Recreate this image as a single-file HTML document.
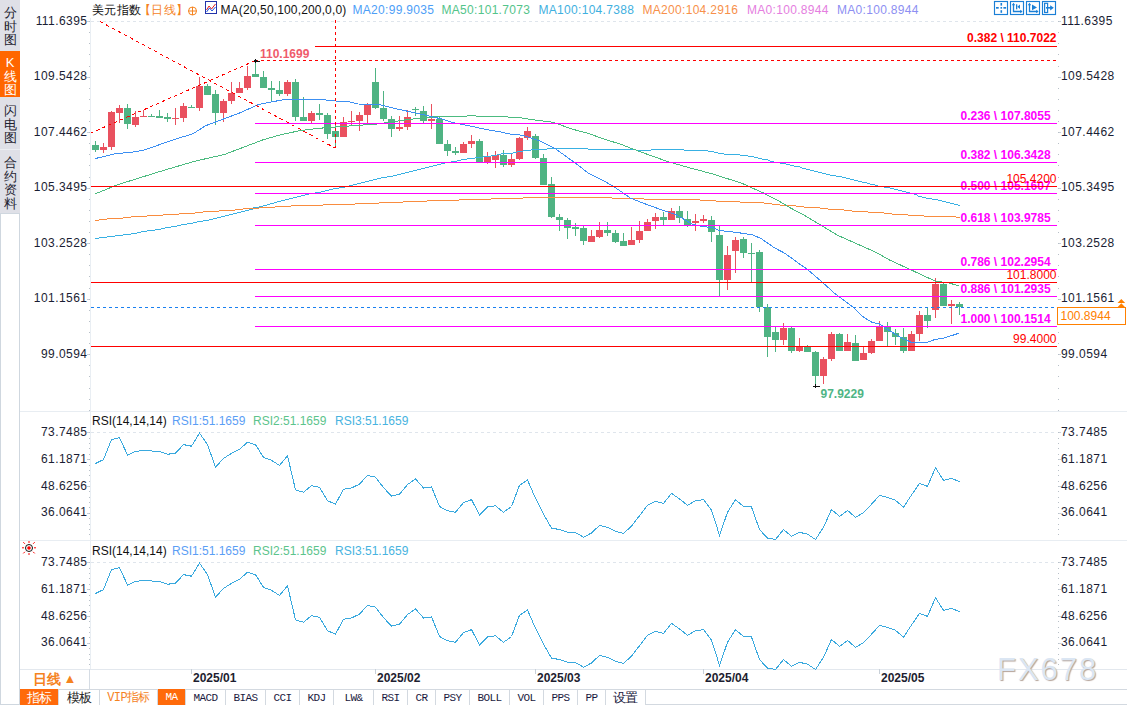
<!DOCTYPE html>
<html><head><meta charset="utf-8"><style>
html,body{margin:0;padding:0;width:1127px;height:705px;overflow:hidden;background:#fff;font-family:"Liberation Sans",sans-serif}
.side{position:absolute;left:0;top:0;width:20px;height:213px;background:#dfe0e7}
.side div{position:absolute;left:0;width:20px;text-align:center;font-size:13px;line-height:13.6px;color:#1e2330}
.wm{position:absolute;left:997px;top:652px;font:31px "Liberation Sans",sans-serif;letter-spacing:2px;color:#dbe6f3;text-shadow:1px 1px 1px #b5a49a}
.tabs{position:absolute;left:20px;top:689px;height:16px;right:0;border-top:1px solid #d3d9e0}
.tab{position:absolute;top:0;height:16px;font:11px "Liberation Mono",monospace;letter-spacing:-0.6px;line-height:16px;text-align:center;color:#1a1a40;border-right:1px solid #d3d9e0;box-sizing:border-box}
</style></head><body>
<div class="side">
<div style="top:6px">分<br>时<br>图</div>
<div style="top:51px;height:46px;background:#ff6600;color:#fff;padding-top:5px;box-sizing:border-box">K<br>线<br>图</div>
<div style="top:104px">闪<br>电<br>图</div>
<div style="top:149px;height:1px;background:#eceef2"></div>
<div style="top:156px">合<br>约<br>资<br>料</div>
</div>
<div style="position:absolute;left:0;top:213px;width:20px;height:492px;border:1px solid #cfd7df;border-right-width:1px;box-sizing:border-box;background:#fff"></div>
<svg width="1127" height="705" viewBox="0 0 1127 705" style="position:absolute;left:0;top:0">
<style>
.ax{font:12px "Liberation Sans",sans-serif;fill:#1a1d33;letter-spacing:0.45px}
.t12{font:12px "Liberation Sans",sans-serif}
.tt{font:12px "Liberation Sans",sans-serif;letter-spacing:0.3px}
.b12{font:bold 12px "Liberation Sans",sans-serif}
</style>
<g shape-rendering="crispEdges">
<rect x="20" y="411" width="1107" height="1" fill="#e8edf2"/>
<rect x="20" y="540" width="1107" height="1" fill="#e8edf2"/>
<rect x="20" y="669" width="1107" height="1" fill="#e3e8ee"/>
<rect x="90" y="18" width="1" height="651" fill="#e9eef3"/>
<text x="87.5" y="24.7" text-anchor="end" class="ax">111.6395</text>
<text x="1061" y="24.7" class="ax">111.6395</text>
<rect x="87" y="21" width="3" height="1" fill="#c9d0d8"/>
<rect x="1058" y="21" width="3" height="1" fill="#c9d0d8"/>
<text x="87.5" y="80.2" text-anchor="end" class="ax">109.5428</text>
<text x="1061" y="80.2" class="ax">109.5428</text>
<rect x="87" y="77" width="3" height="1" fill="#c9d0d8"/>
<rect x="1058" y="77" width="3" height="1" fill="#c9d0d8"/>
<text x="87.5" y="135.7" text-anchor="end" class="ax">107.4462</text>
<text x="1061" y="135.7" class="ax">107.4462</text>
<rect x="87" y="132" width="3" height="1" fill="#c9d0d8"/>
<rect x="1058" y="132" width="3" height="1" fill="#c9d0d8"/>
<text x="87.5" y="191.2" text-anchor="end" class="ax">105.3495</text>
<text x="1061" y="191.2" class="ax">105.3495</text>
<rect x="87" y="188" width="3" height="1" fill="#c9d0d8"/>
<rect x="1058" y="188" width="3" height="1" fill="#c9d0d8"/>
<text x="87.5" y="246.7" text-anchor="end" class="ax">103.2528</text>
<text x="1061" y="246.7" class="ax">103.2528</text>
<rect x="87" y="243" width="3" height="1" fill="#c9d0d8"/>
<rect x="1058" y="243" width="3" height="1" fill="#c9d0d8"/>
<text x="87.5" y="302.2" text-anchor="end" class="ax">101.1561</text>
<text x="1061" y="302.2" class="ax">101.1561</text>
<rect x="87" y="299" width="3" height="1" fill="#c9d0d8"/>
<rect x="1058" y="299" width="3" height="1" fill="#c9d0d8"/>
<text x="87.5" y="357.7" text-anchor="end" class="ax">99.0594</text>
<text x="1061" y="357.7" class="ax">99.0594</text>
<rect x="87" y="354" width="3" height="1" fill="#c9d0d8"/>
<rect x="1058" y="354" width="3" height="1" fill="#c9d0d8"/>
<rect x="89" y="21" width="1" height="1" fill="#b8c0c8"/>
<rect x="1058" y="21" width="1" height="1" fill="#b8c0c8"/>
<rect x="89" y="32" width="1" height="1" fill="#b8c0c8"/>
<rect x="1058" y="32" width="1" height="1" fill="#b8c0c8"/>
<rect x="89" y="43" width="1" height="1" fill="#b8c0c8"/>
<rect x="1058" y="43" width="1" height="1" fill="#b8c0c8"/>
<rect x="89" y="54" width="1" height="1" fill="#b8c0c8"/>
<rect x="1058" y="54" width="1" height="1" fill="#b8c0c8"/>
<rect x="89" y="66" width="1" height="1" fill="#b8c0c8"/>
<rect x="1058" y="66" width="1" height="1" fill="#b8c0c8"/>
<rect x="89" y="77" width="1" height="1" fill="#b8c0c8"/>
<rect x="1058" y="77" width="1" height="1" fill="#b8c0c8"/>
<rect x="89" y="88" width="1" height="1" fill="#b8c0c8"/>
<rect x="1058" y="88" width="1" height="1" fill="#b8c0c8"/>
<rect x="89" y="99" width="1" height="1" fill="#b8c0c8"/>
<rect x="1058" y="99" width="1" height="1" fill="#b8c0c8"/>
<rect x="89" y="110" width="1" height="1" fill="#b8c0c8"/>
<rect x="1058" y="110" width="1" height="1" fill="#b8c0c8"/>
<rect x="89" y="121" width="1" height="1" fill="#b8c0c8"/>
<rect x="1058" y="121" width="1" height="1" fill="#b8c0c8"/>
<rect x="89" y="132" width="1" height="1" fill="#b8c0c8"/>
<rect x="1058" y="132" width="1" height="1" fill="#b8c0c8"/>
<rect x="89" y="143" width="1" height="1" fill="#b8c0c8"/>
<rect x="1058" y="143" width="1" height="1" fill="#b8c0c8"/>
<rect x="89" y="154" width="1" height="1" fill="#b8c0c8"/>
<rect x="1058" y="154" width="1" height="1" fill="#b8c0c8"/>
<rect x="89" y="165" width="1" height="1" fill="#b8c0c8"/>
<rect x="1058" y="165" width="1" height="1" fill="#b8c0c8"/>
<rect x="89" y="177" width="1" height="1" fill="#b8c0c8"/>
<rect x="1058" y="177" width="1" height="1" fill="#b8c0c8"/>
<rect x="89" y="188" width="1" height="1" fill="#b8c0c8"/>
<rect x="1058" y="188" width="1" height="1" fill="#b8c0c8"/>
<rect x="89" y="199" width="1" height="1" fill="#b8c0c8"/>
<rect x="1058" y="199" width="1" height="1" fill="#b8c0c8"/>
<rect x="89" y="210" width="1" height="1" fill="#b8c0c8"/>
<rect x="1058" y="210" width="1" height="1" fill="#b8c0c8"/>
<rect x="89" y="221" width="1" height="1" fill="#b8c0c8"/>
<rect x="1058" y="221" width="1" height="1" fill="#b8c0c8"/>
<rect x="89" y="232" width="1" height="1" fill="#b8c0c8"/>
<rect x="1058" y="232" width="1" height="1" fill="#b8c0c8"/>
<rect x="89" y="243" width="1" height="1" fill="#b8c0c8"/>
<rect x="1058" y="243" width="1" height="1" fill="#b8c0c8"/>
<rect x="89" y="254" width="1" height="1" fill="#b8c0c8"/>
<rect x="1058" y="254" width="1" height="1" fill="#b8c0c8"/>
<rect x="89" y="265" width="1" height="1" fill="#b8c0c8"/>
<rect x="1058" y="265" width="1" height="1" fill="#b8c0c8"/>
<rect x="89" y="276" width="1" height="1" fill="#b8c0c8"/>
<rect x="1058" y="276" width="1" height="1" fill="#b8c0c8"/>
<rect x="89" y="288" width="1" height="1" fill="#b8c0c8"/>
<rect x="1058" y="288" width="1" height="1" fill="#b8c0c8"/>
<rect x="89" y="299" width="1" height="1" fill="#b8c0c8"/>
<rect x="1058" y="299" width="1" height="1" fill="#b8c0c8"/>
<rect x="89" y="310" width="1" height="1" fill="#b8c0c8"/>
<rect x="1058" y="310" width="1" height="1" fill="#b8c0c8"/>
<rect x="89" y="321" width="1" height="1" fill="#b8c0c8"/>
<rect x="1058" y="321" width="1" height="1" fill="#b8c0c8"/>
<rect x="89" y="332" width="1" height="1" fill="#b8c0c8"/>
<rect x="1058" y="332" width="1" height="1" fill="#b8c0c8"/>
<rect x="89" y="343" width="1" height="1" fill="#b8c0c8"/>
<rect x="1058" y="343" width="1" height="1" fill="#b8c0c8"/>
<rect x="89" y="354" width="1" height="1" fill="#b8c0c8"/>
<rect x="1058" y="354" width="1" height="1" fill="#b8c0c8"/>
<rect x="89" y="365" width="1" height="1" fill="#b8c0c8"/>
<rect x="1058" y="365" width="1" height="1" fill="#b8c0c8"/>
<rect x="89" y="376" width="1" height="1" fill="#b8c0c8"/>
<rect x="1058" y="376" width="1" height="1" fill="#b8c0c8"/>
<rect x="89" y="388" width="1" height="1" fill="#b8c0c8"/>
<rect x="1058" y="388" width="1" height="1" fill="#b8c0c8"/>
<rect x="89" y="399" width="1" height="1" fill="#b8c0c8"/>
<rect x="1058" y="399" width="1" height="1" fill="#b8c0c8"/>
<rect x="89" y="410" width="1" height="1" fill="#b8c0c8"/>
<rect x="1058" y="410" width="1" height="1" fill="#b8c0c8"/>
<line x1="91" y1="21.5" x2="1057" y2="21.5" stroke="#dfe5ec" stroke-width="1" stroke-dasharray="3,3"/>
<text x="87.5" y="435.8" text-anchor="end" class="ax">73.7485</text>
<text x="1061" y="435.8" class="ax">73.7485</text>
<rect x="87" y="432" width="3" height="1" fill="#c9d0d8"/>
<rect x="1058" y="432" width="3" height="1" fill="#c9d0d8"/>
<text x="87.5" y="462.7" text-anchor="end" class="ax">61.1871</text>
<text x="1061" y="462.7" class="ax">61.1871</text>
<rect x="87" y="459" width="3" height="1" fill="#c9d0d8"/>
<rect x="1058" y="459" width="3" height="1" fill="#c9d0d8"/>
<text x="87.5" y="489.5" text-anchor="end" class="ax">48.6256</text>
<text x="1061" y="489.5" class="ax">48.6256</text>
<rect x="87" y="486" width="3" height="1" fill="#c9d0d8"/>
<rect x="1058" y="486" width="3" height="1" fill="#c9d0d8"/>
<text x="87.5" y="516.4" text-anchor="end" class="ax">36.0641</text>
<text x="1061" y="516.4" class="ax">36.0641</text>
<rect x="87" y="513" width="3" height="1" fill="#c9d0d8"/>
<rect x="1058" y="513" width="3" height="1" fill="#c9d0d8"/>
<rect x="89" y="432" width="1" height="1" fill="#b8c0c8"/>
<rect x="1058" y="432" width="1" height="1" fill="#b8c0c8"/>
<rect x="89" y="438" width="1" height="1" fill="#b8c0c8"/>
<rect x="1058" y="438" width="1" height="1" fill="#b8c0c8"/>
<rect x="89" y="443" width="1" height="1" fill="#b8c0c8"/>
<rect x="1058" y="443" width="1" height="1" fill="#b8c0c8"/>
<rect x="89" y="448" width="1" height="1" fill="#b8c0c8"/>
<rect x="1058" y="448" width="1" height="1" fill="#b8c0c8"/>
<rect x="89" y="454" width="1" height="1" fill="#b8c0c8"/>
<rect x="1058" y="454" width="1" height="1" fill="#b8c0c8"/>
<rect x="89" y="459" width="1" height="1" fill="#b8c0c8"/>
<rect x="1058" y="459" width="1" height="1" fill="#b8c0c8"/>
<rect x="89" y="465" width="1" height="1" fill="#b8c0c8"/>
<rect x="1058" y="465" width="1" height="1" fill="#b8c0c8"/>
<rect x="89" y="470" width="1" height="1" fill="#b8c0c8"/>
<rect x="1058" y="470" width="1" height="1" fill="#b8c0c8"/>
<rect x="89" y="475" width="1" height="1" fill="#b8c0c8"/>
<rect x="1058" y="475" width="1" height="1" fill="#b8c0c8"/>
<rect x="89" y="481" width="1" height="1" fill="#b8c0c8"/>
<rect x="1058" y="481" width="1" height="1" fill="#b8c0c8"/>
<rect x="89" y="486" width="1" height="1" fill="#b8c0c8"/>
<rect x="1058" y="486" width="1" height="1" fill="#b8c0c8"/>
<rect x="89" y="491" width="1" height="1" fill="#b8c0c8"/>
<rect x="1058" y="491" width="1" height="1" fill="#b8c0c8"/>
<rect x="89" y="497" width="1" height="1" fill="#b8c0c8"/>
<rect x="1058" y="497" width="1" height="1" fill="#b8c0c8"/>
<rect x="89" y="502" width="1" height="1" fill="#b8c0c8"/>
<rect x="1058" y="502" width="1" height="1" fill="#b8c0c8"/>
<rect x="89" y="507" width="1" height="1" fill="#b8c0c8"/>
<rect x="1058" y="507" width="1" height="1" fill="#b8c0c8"/>
<rect x="89" y="513" width="1" height="1" fill="#b8c0c8"/>
<rect x="1058" y="513" width="1" height="1" fill="#b8c0c8"/>
<rect x="89" y="518" width="1" height="1" fill="#b8c0c8"/>
<rect x="1058" y="518" width="1" height="1" fill="#b8c0c8"/>
<rect x="89" y="524" width="1" height="1" fill="#b8c0c8"/>
<rect x="1058" y="524" width="1" height="1" fill="#b8c0c8"/>
<rect x="89" y="529" width="1" height="1" fill="#b8c0c8"/>
<rect x="1058" y="529" width="1" height="1" fill="#b8c0c8"/>
<rect x="89" y="534" width="1" height="1" fill="#b8c0c8"/>
<rect x="1058" y="534" width="1" height="1" fill="#b8c0c8"/>
<line x1="91" y1="432.5" x2="1057" y2="432.5" stroke="#dfe5ec" stroke-width="1" stroke-dasharray="3,3"/>
<text x="92" y="424.5" class="t12" fill="#111">RSI(14,14,14)</text>
<text x="172" y="424.5" class="t12" fill="#5b9ef5">RSI1:51.1659</text>
<text x="253" y="424.5" class="t12" fill="#5cc48c">RSI2:51.1659</text>
<text x="335" y="424.5" class="t12" fill="#47b3e0">RSI3:51.1659</text>
<text x="87.5" y="565.8" text-anchor="end" class="ax">73.7485</text>
<text x="1061" y="565.8" class="ax">73.7485</text>
<rect x="87" y="562" width="3" height="1" fill="#c9d0d8"/>
<rect x="1058" y="562" width="3" height="1" fill="#c9d0d8"/>
<text x="87.5" y="592.7" text-anchor="end" class="ax">61.1871</text>
<text x="1061" y="592.7" class="ax">61.1871</text>
<rect x="87" y="589" width="3" height="1" fill="#c9d0d8"/>
<rect x="1058" y="589" width="3" height="1" fill="#c9d0d8"/>
<text x="87.5" y="619.5" text-anchor="end" class="ax">48.6256</text>
<text x="1061" y="619.5" class="ax">48.6256</text>
<rect x="87" y="616" width="3" height="1" fill="#c9d0d8"/>
<rect x="1058" y="616" width="3" height="1" fill="#c9d0d8"/>
<text x="87.5" y="646.4" text-anchor="end" class="ax">36.0641</text>
<text x="1061" y="646.4" class="ax">36.0641</text>
<rect x="87" y="643" width="3" height="1" fill="#c9d0d8"/>
<rect x="1058" y="643" width="3" height="1" fill="#c9d0d8"/>
<rect x="89" y="562" width="1" height="1" fill="#b8c0c8"/>
<rect x="1058" y="562" width="1" height="1" fill="#b8c0c8"/>
<rect x="89" y="568" width="1" height="1" fill="#b8c0c8"/>
<rect x="1058" y="568" width="1" height="1" fill="#b8c0c8"/>
<rect x="89" y="573" width="1" height="1" fill="#b8c0c8"/>
<rect x="1058" y="573" width="1" height="1" fill="#b8c0c8"/>
<rect x="89" y="578" width="1" height="1" fill="#b8c0c8"/>
<rect x="1058" y="578" width="1" height="1" fill="#b8c0c8"/>
<rect x="89" y="584" width="1" height="1" fill="#b8c0c8"/>
<rect x="1058" y="584" width="1" height="1" fill="#b8c0c8"/>
<rect x="89" y="589" width="1" height="1" fill="#b8c0c8"/>
<rect x="1058" y="589" width="1" height="1" fill="#b8c0c8"/>
<rect x="89" y="595" width="1" height="1" fill="#b8c0c8"/>
<rect x="1058" y="595" width="1" height="1" fill="#b8c0c8"/>
<rect x="89" y="600" width="1" height="1" fill="#b8c0c8"/>
<rect x="1058" y="600" width="1" height="1" fill="#b8c0c8"/>
<rect x="89" y="605" width="1" height="1" fill="#b8c0c8"/>
<rect x="1058" y="605" width="1" height="1" fill="#b8c0c8"/>
<rect x="89" y="611" width="1" height="1" fill="#b8c0c8"/>
<rect x="1058" y="611" width="1" height="1" fill="#b8c0c8"/>
<rect x="89" y="616" width="1" height="1" fill="#b8c0c8"/>
<rect x="1058" y="616" width="1" height="1" fill="#b8c0c8"/>
<rect x="89" y="621" width="1" height="1" fill="#b8c0c8"/>
<rect x="1058" y="621" width="1" height="1" fill="#b8c0c8"/>
<rect x="89" y="627" width="1" height="1" fill="#b8c0c8"/>
<rect x="1058" y="627" width="1" height="1" fill="#b8c0c8"/>
<rect x="89" y="632" width="1" height="1" fill="#b8c0c8"/>
<rect x="1058" y="632" width="1" height="1" fill="#b8c0c8"/>
<rect x="89" y="637" width="1" height="1" fill="#b8c0c8"/>
<rect x="1058" y="637" width="1" height="1" fill="#b8c0c8"/>
<rect x="89" y="643" width="1" height="1" fill="#b8c0c8"/>
<rect x="1058" y="643" width="1" height="1" fill="#b8c0c8"/>
<rect x="89" y="648" width="1" height="1" fill="#b8c0c8"/>
<rect x="1058" y="648" width="1" height="1" fill="#b8c0c8"/>
<rect x="89" y="654" width="1" height="1" fill="#b8c0c8"/>
<rect x="1058" y="654" width="1" height="1" fill="#b8c0c8"/>
<rect x="89" y="659" width="1" height="1" fill="#b8c0c8"/>
<rect x="1058" y="659" width="1" height="1" fill="#b8c0c8"/>
<rect x="89" y="664" width="1" height="1" fill="#b8c0c8"/>
<rect x="1058" y="664" width="1" height="1" fill="#b8c0c8"/>
<line x1="91" y1="562.5" x2="1057" y2="562.5" stroke="#dfe5ec" stroke-width="1" stroke-dasharray="3,3"/>
<text x="92" y="554.5" class="t12" fill="#111">RSI(14,14,14)</text>
<text x="172" y="554.5" class="t12" fill="#5b9ef5">RSI1:51.1659</text>
<text x="253" y="554.5" class="t12" fill="#5cc48c">RSI2:51.1659</text>
<text x="335" y="554.5" class="t12" fill="#47b3e0">RSI3:51.1659</text>
</g>
<g shape-rendering="crispEdges">
<rect x="95" y="141" width="1" height="11" fill="#4fb383"/>
<rect x="92" y="145" width="7" height="5" fill="#4fb383"/>
<rect x="103" y="143" width="1" height="10" fill="#e9515f"/>
<rect x="100" y="147" width="7" height="3" fill="#e9515f"/>
<rect x="111" y="111" width="1" height="39" fill="#e9515f"/>
<rect x="108" y="112" width="7" height="35" fill="#e9515f"/>
<rect x="119" y="105" width="1" height="18" fill="#e9515f"/>
<rect x="116" y="108" width="7" height="5" fill="#e9515f"/>
<rect x="127" y="104" width="1" height="25" fill="#4fb383"/>
<rect x="124" y="108" width="7" height="16" fill="#4fb383"/>
<rect x="135" y="111" width="1" height="16" fill="#e9515f"/>
<rect x="132" y="117" width="7" height="8" fill="#e9515f"/>
<rect x="143" y="110" width="1" height="7" fill="#e9515f"/>
<rect x="140" y="116" width="7" height="1" fill="#e9515f"/>
<rect x="151" y="114" width="1" height="3" fill="#4fb383"/>
<rect x="148" y="116" width="7" height="1" fill="#4fb383"/>
<rect x="159" y="110" width="1" height="8" fill="#4fb383"/>
<rect x="156" y="116" width="7" height="2" fill="#4fb383"/>
<rect x="167" y="113" width="1" height="9" fill="#4fb383"/>
<rect x="164" y="117" width="7" height="2" fill="#4fb383"/>
<rect x="175" y="108" width="1" height="17" fill="#e9515f"/>
<rect x="172" y="118" width="7" height="1" fill="#e9515f"/>
<rect x="183" y="103" width="1" height="19" fill="#e9515f"/>
<rect x="180" y="106" width="7" height="12" fill="#e9515f"/>
<rect x="191" y="105" width="1" height="3" fill="#4fb383"/>
<rect x="188" y="107" width="7" height="1" fill="#4fb383"/>
<rect x="199" y="77" width="1" height="34" fill="#e9515f"/>
<rect x="196" y="86" width="7" height="22" fill="#e9515f"/>
<rect x="207" y="84" width="1" height="11" fill="#4fb383"/>
<rect x="204" y="86" width="7" height="9" fill="#4fb383"/>
<rect x="215" y="90" width="1" height="35" fill="#4fb383"/>
<rect x="212" y="94" width="7" height="19" fill="#4fb383"/>
<rect x="223" y="99" width="1" height="23" fill="#e9515f"/>
<rect x="220" y="101" width="7" height="12" fill="#e9515f"/>
<rect x="231" y="82" width="1" height="22" fill="#e9515f"/>
<rect x="228" y="93" width="7" height="8" fill="#e9515f"/>
<rect x="239" y="82" width="1" height="11" fill="#e9515f"/>
<rect x="236" y="88" width="7" height="5" fill="#e9515f"/>
<rect x="247" y="66" width="1" height="24" fill="#e9515f"/>
<rect x="244" y="76" width="7" height="12" fill="#e9515f"/>
<rect x="255" y="60" width="1" height="17" fill="#4fb383"/>
<rect x="252" y="74" width="7" height="3" fill="#4fb383"/>
<rect x="263" y="71" width="1" height="17" fill="#4fb383"/>
<rect x="260" y="77" width="7" height="11" fill="#4fb383"/>
<rect x="271" y="81" width="1" height="21" fill="#4fb383"/>
<rect x="268" y="88" width="7" height="2" fill="#4fb383"/>
<rect x="279" y="81" width="1" height="15" fill="#4fb383"/>
<rect x="276" y="90" width="7" height="4" fill="#4fb383"/>
<rect x="287" y="80" width="1" height="16" fill="#e9515f"/>
<rect x="284" y="82" width="7" height="12" fill="#e9515f"/>
<rect x="295" y="79" width="1" height="42" fill="#4fb383"/>
<rect x="292" y="82" width="7" height="35" fill="#4fb383"/>
<rect x="303" y="97" width="1" height="24" fill="#4fb383"/>
<rect x="300" y="117" width="7" height="4" fill="#4fb383"/>
<rect x="311" y="111" width="1" height="13" fill="#e9515f"/>
<rect x="308" y="113" width="7" height="8" fill="#e9515f"/>
<rect x="319" y="104" width="1" height="16" fill="#4fb383"/>
<rect x="316" y="113" width="7" height="2" fill="#4fb383"/>
<rect x="327" y="113" width="1" height="26" fill="#4fb383"/>
<rect x="324" y="115" width="7" height="19" fill="#4fb383"/>
<rect x="335" y="125" width="1" height="23" fill="#4fb383"/>
<rect x="332" y="131" width="7" height="6" fill="#4fb383"/>
<rect x="343" y="117" width="1" height="20" fill="#e9515f"/>
<rect x="340" y="122" width="7" height="15" fill="#e9515f"/>
<rect x="351" y="111" width="1" height="14" fill="#e9515f"/>
<rect x="348" y="121" width="7" height="1" fill="#e9515f"/>
<rect x="359" y="112" width="1" height="19" fill="#e9515f"/>
<rect x="356" y="115" width="7" height="6" fill="#e9515f"/>
<rect x="367" y="103" width="1" height="20" fill="#e9515f"/>
<rect x="364" y="105" width="7" height="10" fill="#e9515f"/>
<rect x="375" y="68" width="1" height="41" fill="#4fb383"/>
<rect x="372" y="82" width="7" height="26" fill="#4fb383"/>
<rect x="383" y="91" width="1" height="30" fill="#4fb383"/>
<rect x="380" y="108" width="7" height="11" fill="#4fb383"/>
<rect x="391" y="116" width="1" height="21" fill="#4fb383"/>
<rect x="388" y="119" width="7" height="10" fill="#4fb383"/>
<rect x="399" y="116" width="1" height="15" fill="#e9515f"/>
<rect x="396" y="127" width="7" height="2" fill="#e9515f"/>
<rect x="407" y="110" width="1" height="20" fill="#e9515f"/>
<rect x="404" y="117" width="7" height="10" fill="#e9515f"/>
<rect x="415" y="107" width="1" height="9" fill="#4fb383"/>
<rect x="412" y="109" width="7" height="1" fill="#4fb383"/>
<rect x="423" y="106" width="1" height="17" fill="#4fb383"/>
<rect x="420" y="111" width="7" height="10" fill="#4fb383"/>
<rect x="431" y="104" width="1" height="25" fill="#e9515f"/>
<rect x="428" y="119" width="7" height="2" fill="#e9515f"/>
<rect x="439" y="117" width="1" height="27" fill="#4fb383"/>
<rect x="436" y="119" width="7" height="25" fill="#4fb383"/>
<rect x="447" y="140" width="1" height="16" fill="#4fb383"/>
<rect x="444" y="144" width="7" height="7" fill="#4fb383"/>
<rect x="455" y="147" width="1" height="8" fill="#4fb383"/>
<rect x="452" y="151" width="7" height="2" fill="#4fb383"/>
<rect x="463" y="142" width="1" height="11" fill="#e9515f"/>
<rect x="460" y="144" width="7" height="9" fill="#e9515f"/>
<rect x="471" y="135" width="1" height="13" fill="#e9515f"/>
<rect x="468" y="141" width="7" height="3" fill="#e9515f"/>
<rect x="479" y="139" width="1" height="23" fill="#4fb383"/>
<rect x="476" y="141" width="7" height="21" fill="#4fb383"/>
<rect x="487" y="152" width="1" height="12" fill="#e9515f"/>
<rect x="484" y="157" width="7" height="5" fill="#e9515f"/>
<rect x="495" y="151" width="1" height="17" fill="#e9515f"/>
<rect x="492" y="155" width="7" height="5" fill="#e9515f"/>
<rect x="503" y="150" width="1" height="17" fill="#4fb383"/>
<rect x="500" y="155" width="7" height="10" fill="#4fb383"/>
<rect x="511" y="154" width="1" height="13" fill="#e9515f"/>
<rect x="508" y="159" width="7" height="6" fill="#e9515f"/>
<rect x="519" y="137" width="1" height="23" fill="#e9515f"/>
<rect x="516" y="138" width="7" height="21" fill="#e9515f"/>
<rect x="527" y="127" width="1" height="13" fill="#e9515f"/>
<rect x="524" y="131" width="7" height="7" fill="#e9515f"/>
<rect x="535" y="134" width="1" height="25" fill="#4fb383"/>
<rect x="532" y="136" width="7" height="22" fill="#4fb383"/>
<rect x="543" y="154" width="1" height="31" fill="#4fb383"/>
<rect x="540" y="158" width="7" height="27" fill="#4fb383"/>
<rect x="551" y="177" width="1" height="41" fill="#4fb383"/>
<rect x="548" y="184" width="7" height="33" fill="#4fb383"/>
<rect x="559" y="214" width="1" height="17" fill="#4fb383"/>
<rect x="556" y="217" width="7" height="3" fill="#4fb383"/>
<rect x="567" y="218" width="1" height="21" fill="#4fb383"/>
<rect x="564" y="220" width="7" height="8" fill="#4fb383"/>
<rect x="575" y="223" width="1" height="13" fill="#4fb383"/>
<rect x="572" y="227" width="7" height="2" fill="#4fb383"/>
<rect x="583" y="226" width="1" height="19" fill="#4fb383"/>
<rect x="580" y="228" width="7" height="13" fill="#4fb383"/>
<rect x="591" y="230" width="1" height="12" fill="#e9515f"/>
<rect x="588" y="236" width="7" height="6" fill="#e9515f"/>
<rect x="599" y="222" width="1" height="16" fill="#e9515f"/>
<rect x="596" y="230" width="7" height="7" fill="#e9515f"/>
<rect x="607" y="222" width="1" height="14" fill="#4fb383"/>
<rect x="604" y="230" width="7" height="3" fill="#4fb383"/>
<rect x="615" y="230" width="1" height="13" fill="#4fb383"/>
<rect x="612" y="233" width="7" height="9" fill="#4fb383"/>
<rect x="623" y="233" width="1" height="13" fill="#4fb383"/>
<rect x="620" y="241" width="7" height="5" fill="#4fb383"/>
<rect x="631" y="227" width="1" height="18" fill="#e9515f"/>
<rect x="628" y="240" width="7" height="5" fill="#e9515f"/>
<rect x="639" y="221" width="1" height="22" fill="#e9515f"/>
<rect x="636" y="231" width="7" height="9" fill="#e9515f"/>
<rect x="647" y="219" width="1" height="12" fill="#e9515f"/>
<rect x="644" y="222" width="7" height="9" fill="#e9515f"/>
<rect x="655" y="213" width="1" height="16" fill="#e9515f"/>
<rect x="652" y="217" width="7" height="4" fill="#e9515f"/>
<rect x="663" y="212" width="1" height="13" fill="#4fb383"/>
<rect x="660" y="217" width="7" height="3" fill="#4fb383"/>
<rect x="671" y="208" width="1" height="12" fill="#e9515f"/>
<rect x="668" y="211" width="7" height="9" fill="#e9515f"/>
<rect x="679" y="206" width="1" height="17" fill="#4fb383"/>
<rect x="676" y="211" width="7" height="7" fill="#4fb383"/>
<rect x="687" y="211" width="1" height="16" fill="#4fb383"/>
<rect x="684" y="219" width="7" height="6" fill="#4fb383"/>
<rect x="695" y="214" width="1" height="17" fill="#e9515f"/>
<rect x="692" y="221" width="7" height="2" fill="#e9515f"/>
<rect x="703" y="215" width="1" height="8" fill="#e9515f"/>
<rect x="700" y="219" width="7" height="2" fill="#e9515f"/>
<rect x="711" y="216" width="1" height="26" fill="#4fb383"/>
<rect x="708" y="220" width="7" height="12" fill="#4fb383"/>
<rect x="719" y="226" width="1" height="70" fill="#4fb383"/>
<rect x="716" y="235" width="7" height="45" fill="#4fb383"/>
<rect x="727" y="246" width="1" height="44" fill="#e9515f"/>
<rect x="724" y="255" width="7" height="25" fill="#e9515f"/>
<rect x="735" y="237" width="1" height="36" fill="#e9515f"/>
<rect x="732" y="240" width="7" height="11" fill="#e9515f"/>
<rect x="743" y="237" width="1" height="21" fill="#4fb383"/>
<rect x="740" y="239" width="7" height="14" fill="#4fb383"/>
<rect x="751" y="243" width="1" height="39" fill="#4fb383"/>
<rect x="748" y="253" width="7" height="1" fill="#4fb383"/>
<rect x="759" y="250" width="1" height="62" fill="#4fb383"/>
<rect x="756" y="252" width="7" height="55" fill="#4fb383"/>
<rect x="767" y="304" width="1" height="53" fill="#4fb383"/>
<rect x="764" y="307" width="7" height="30" fill="#4fb383"/>
<rect x="775" y="327" width="1" height="25" fill="#4fb383"/>
<rect x="772" y="332" width="7" height="8" fill="#4fb383"/>
<rect x="783" y="323" width="1" height="22" fill="#e9515f"/>
<rect x="780" y="328" width="7" height="12" fill="#e9515f"/>
<rect x="791" y="327" width="1" height="26" fill="#4fb383"/>
<rect x="788" y="328" width="7" height="23" fill="#4fb383"/>
<rect x="799" y="338" width="1" height="14" fill="#e9515f"/>
<rect x="796" y="347" width="7" height="4" fill="#e9515f"/>
<rect x="807" y="345" width="1" height="7" fill="#4fb383"/>
<rect x="804" y="347" width="7" height="5" fill="#4fb383"/>
<rect x="815" y="351" width="1" height="35" fill="#4fb383"/>
<rect x="812" y="352" width="7" height="24" fill="#4fb383"/>
<rect x="823" y="357" width="1" height="27" fill="#e9515f"/>
<rect x="820" y="359" width="7" height="17" fill="#e9515f"/>
<rect x="831" y="332" width="1" height="29" fill="#e9515f"/>
<rect x="828" y="334" width="7" height="25" fill="#e9515f"/>
<rect x="839" y="333" width="1" height="18" fill="#4fb383"/>
<rect x="836" y="334" width="7" height="17" fill="#4fb383"/>
<rect x="847" y="334" width="1" height="17" fill="#e9515f"/>
<rect x="844" y="342" width="7" height="9" fill="#e9515f"/>
<rect x="855" y="335" width="1" height="26" fill="#4fb383"/>
<rect x="852" y="343" width="7" height="18" fill="#4fb383"/>
<rect x="863" y="347" width="1" height="13" fill="#e9515f"/>
<rect x="860" y="353" width="7" height="7" fill="#e9515f"/>
<rect x="871" y="339" width="1" height="15" fill="#e9515f"/>
<rect x="868" y="341" width="7" height="12" fill="#e9515f"/>
<rect x="879" y="321" width="1" height="20" fill="#e9515f"/>
<rect x="876" y="326" width="7" height="15" fill="#e9515f"/>
<rect x="887" y="322" width="1" height="24" fill="#4fb383"/>
<rect x="884" y="327" width="7" height="5" fill="#4fb383"/>
<rect x="895" y="329" width="1" height="16" fill="#4fb383"/>
<rect x="892" y="333" width="7" height="4" fill="#4fb383"/>
<rect x="903" y="328" width="1" height="25" fill="#4fb383"/>
<rect x="900" y="337" width="7" height="14" fill="#4fb383"/>
<rect x="911" y="331" width="1" height="20" fill="#e9515f"/>
<rect x="908" y="334" width="7" height="17" fill="#e9515f"/>
<rect x="919" y="311" width="1" height="30" fill="#e9515f"/>
<rect x="916" y="315" width="7" height="19" fill="#e9515f"/>
<rect x="927" y="307" width="1" height="21" fill="#4fb383"/>
<rect x="924" y="315" width="7" height="6" fill="#4fb383"/>
<rect x="935" y="278" width="1" height="40" fill="#e9515f"/>
<rect x="932" y="284" width="7" height="26" fill="#e9515f"/>
<rect x="943" y="283" width="1" height="23" fill="#4fb383"/>
<rect x="940" y="284" width="7" height="22" fill="#4fb383"/>
<rect x="951" y="300" width="1" height="24" fill="#e9515f"/>
<rect x="948" y="304" width="7" height="2" fill="#e9515f"/>
<rect x="959" y="302" width="1" height="13" fill="#4fb383"/>
<rect x="956" y="304" width="7" height="3" fill="#4fb383"/>
</g>
<g shape-rendering="crispEdges"><rect x="95" y="220" width="4" height="1" fill="#f98c3f"/><rect x="99" y="219" width="8" height="1" fill="#f98c3f"/><rect x="107" y="218" width="16" height="1" fill="#f98c3f"/><rect x="123" y="217" width="8" height="1" fill="#f98c3f"/><rect x="131" y="216" width="16" height="1" fill="#f98c3f"/><rect x="147" y="215" width="16" height="1" fill="#f98c3f"/><rect x="163" y="214" width="16" height="1" fill="#f98c3f"/><rect x="179" y="213" width="16" height="1" fill="#f98c3f"/><rect x="195" y="212" width="8" height="1" fill="#f98c3f"/><rect x="203" y="211" width="16" height="1" fill="#f98c3f"/><rect x="219" y="210" width="16" height="1" fill="#f98c3f"/><rect x="235" y="209" width="8" height="1" fill="#f98c3f"/><rect x="243" y="208" width="16" height="1" fill="#f98c3f"/><rect x="259" y="207" width="16" height="1" fill="#f98c3f"/><rect x="275" y="206" width="16" height="1" fill="#f98c3f"/><rect x="291" y="205" width="32" height="1" fill="#f98c3f"/><rect x="323" y="204" width="32" height="1" fill="#f98c3f"/><rect x="355" y="203" width="24" height="1" fill="#f98c3f"/><rect x="379" y="202" width="24" height="1" fill="#f98c3f"/><rect x="403" y="201" width="24" height="1" fill="#f98c3f"/><rect x="427" y="200" width="32" height="1" fill="#f98c3f"/><rect x="459" y="199" width="32" height="1" fill="#f98c3f"/><rect x="491" y="198" width="32" height="1" fill="#f98c3f"/><rect x="523" y="197" width="89" height="1" fill="#f98c3f"/><rect x="612" y="198" width="32" height="1" fill="#f98c3f"/><rect x="644" y="199" width="56" height="1" fill="#f98c3f"/><rect x="700" y="200" width="16" height="1" fill="#f98c3f"/><rect x="716" y="201" width="24" height="1" fill="#f98c3f"/><rect x="740" y="202" width="24" height="1" fill="#f98c3f"/><rect x="764" y="203" width="8" height="1" fill="#f98c3f"/><rect x="772" y="204" width="8" height="1" fill="#f98c3f"/><rect x="780" y="205" width="16" height="1" fill="#f98c3f"/><rect x="796" y="206" width="8" height="1" fill="#f98c3f"/><rect x="804" y="207" width="16" height="1" fill="#f98c3f"/><rect x="820" y="208" width="8" height="1" fill="#f98c3f"/><rect x="828" y="209" width="16" height="1" fill="#f98c3f"/><rect x="844" y="210" width="8" height="1" fill="#f98c3f"/><rect x="852" y="211" width="16" height="1" fill="#f98c3f"/><rect x="868" y="212" width="16" height="1" fill="#f98c3f"/><rect x="884" y="213" width="8" height="1" fill="#f98c3f"/><rect x="892" y="214" width="16" height="1" fill="#f98c3f"/><rect x="908" y="215" width="16" height="1" fill="#f98c3f"/><rect x="924" y="216" width="32" height="1" fill="#f98c3f"/><rect x="956" y="217" width="4" height="1" fill="#f98c3f"/></g>
<g shape-rendering="crispEdges"><rect x="95" y="238" width="4" height="1" fill="#38b0e3"/><rect x="99" y="237" width="8" height="1" fill="#38b0e3"/><rect x="107" y="236" width="8" height="1" fill="#38b0e3"/><rect x="115" y="235" width="8" height="1" fill="#38b0e3"/><rect x="123" y="234" width="8" height="1" fill="#38b0e3"/><rect x="131" y="233" width="6" height="1" fill="#38b0e3"/><rect x="137" y="232" width="4" height="1" fill="#38b0e3"/><rect x="141" y="231" width="6" height="1" fill="#38b0e3"/><rect x="147" y="230" width="8" height="1" fill="#38b0e3"/><rect x="155" y="229" width="6" height="1" fill="#38b0e3"/><rect x="161" y="228" width="4" height="1" fill="#38b0e3"/><rect x="165" y="227" width="6" height="1" fill="#38b0e3"/><rect x="171" y="226" width="6" height="1" fill="#38b0e3"/><rect x="177" y="225" width="4" height="1" fill="#38b0e3"/><rect x="181" y="224" width="6" height="1" fill="#38b0e3"/><rect x="187" y="223" width="6" height="1" fill="#38b0e3"/><rect x="193" y="222" width="4" height="1" fill="#38b0e3"/><rect x="197" y="221" width="6" height="1" fill="#38b0e3"/><rect x="203" y="220" width="6" height="1" fill="#38b0e3"/><rect x="209" y="219" width="4" height="1" fill="#38b0e3"/><rect x="213" y="218" width="4" height="1" fill="#38b0e3"/><rect x="217" y="217" width="4" height="1" fill="#38b0e3"/><rect x="221" y="216" width="4" height="1" fill="#38b0e3"/><rect x="225" y="215" width="4" height="1" fill="#38b0e3"/><rect x="229" y="214" width="4" height="1" fill="#38b0e3"/><rect x="233" y="213" width="4" height="1" fill="#38b0e3"/><rect x="237" y="212" width="4" height="1" fill="#38b0e3"/><rect x="241" y="211" width="4" height="1" fill="#38b0e3"/><rect x="245" y="210" width="4" height="1" fill="#38b0e3"/><rect x="249" y="209" width="4" height="1" fill="#38b0e3"/><rect x="253" y="207" width="6" height="1" fill="#38b0e3"/><rect x="259" y="206" width="4" height="1" fill="#38b0e3"/><rect x="263" y="205" width="4" height="1" fill="#38b0e3"/><rect x="267" y="204" width="3" height="1" fill="#38b0e3"/><rect x="270" y="203" width="4" height="1" fill="#38b0e3"/><rect x="274" y="202" width="3" height="1" fill="#38b0e3"/><rect x="277" y="201" width="4" height="1" fill="#38b0e3"/><rect x="281" y="200" width="4" height="1" fill="#38b0e3"/><rect x="285" y="199" width="4" height="1" fill="#38b0e3"/><rect x="289" y="198" width="4" height="1" fill="#38b0e3"/><rect x="293" y="197" width="4" height="1" fill="#38b0e3"/><rect x="297" y="196" width="4" height="1" fill="#38b0e3"/><rect x="301" y="195" width="4" height="1" fill="#38b0e3"/><rect x="305" y="194" width="4" height="1" fill="#38b0e3"/><rect x="309" y="193" width="6" height="1" fill="#38b0e3"/><rect x="315" y="192" width="6" height="1" fill="#38b0e3"/><rect x="321" y="191" width="4" height="1" fill="#38b0e3"/><rect x="325" y="190" width="4" height="1" fill="#38b0e3"/><rect x="329" y="189" width="4" height="1" fill="#38b0e3"/><rect x="333" y="188" width="6" height="1" fill="#38b0e3"/><rect x="339" y="187" width="6" height="1" fill="#38b0e3"/><rect x="345" y="186" width="4" height="1" fill="#38b0e3"/><rect x="349" y="185" width="4" height="1" fill="#38b0e3"/><rect x="353" y="184" width="4" height="1" fill="#38b0e3"/><rect x="357" y="183" width="4" height="1" fill="#38b0e3"/><rect x="361" y="182" width="4" height="1" fill="#38b0e3"/><rect x="365" y="181" width="4" height="1" fill="#38b0e3"/><rect x="369" y="180" width="4" height="1" fill="#38b0e3"/><rect x="373" y="179" width="4" height="1" fill="#38b0e3"/><rect x="377" y="178" width="4" height="1" fill="#38b0e3"/><rect x="381" y="177" width="6" height="1" fill="#38b0e3"/><rect x="387" y="176" width="6" height="1" fill="#38b0e3"/><rect x="393" y="175" width="4" height="1" fill="#38b0e3"/><rect x="397" y="174" width="4" height="1" fill="#38b0e3"/><rect x="401" y="173" width="4" height="1" fill="#38b0e3"/><rect x="405" y="172" width="4" height="1" fill="#38b0e3"/><rect x="409" y="171" width="4" height="1" fill="#38b0e3"/><rect x="413" y="170" width="4" height="1" fill="#38b0e3"/><rect x="417" y="169" width="4" height="1" fill="#38b0e3"/><rect x="421" y="168" width="4" height="1" fill="#38b0e3"/><rect x="425" y="167" width="4" height="1" fill="#38b0e3"/><rect x="429" y="166" width="4" height="1" fill="#38b0e3"/><rect x="433" y="165" width="4" height="1" fill="#38b0e3"/><rect x="437" y="164" width="4" height="1" fill="#38b0e3"/><rect x="441" y="163" width="4" height="1" fill="#38b0e3"/><rect x="445" y="162" width="6" height="1" fill="#38b0e3"/><rect x="451" y="161" width="6" height="1" fill="#38b0e3"/><rect x="457" y="160" width="4" height="1" fill="#38b0e3"/><rect x="461" y="159" width="6" height="1" fill="#38b0e3"/><rect x="467" y="158" width="8" height="1" fill="#38b0e3"/><rect x="475" y="157" width="8" height="1" fill="#38b0e3"/><rect x="483" y="156" width="8" height="1" fill="#38b0e3"/><rect x="491" y="155" width="6" height="1" fill="#38b0e3"/><rect x="497" y="154" width="4" height="1" fill="#38b0e3"/><rect x="501" y="153" width="12" height="1" fill="#38b0e3"/><rect x="513" y="152" width="4" height="1" fill="#38b0e3"/><rect x="517" y="151" width="6" height="1" fill="#38b0e3"/><rect x="523" y="150" width="8" height="1" fill="#38b0e3"/><rect x="531" y="149" width="16" height="1" fill="#38b0e3"/><rect x="547" y="148" width="41" height="1" fill="#38b0e3"/><rect x="588" y="149" width="48" height="1" fill="#38b0e3"/><rect x="636" y="150" width="15" height="1" fill="#38b0e3"/><rect x="651" y="149" width="33" height="1" fill="#38b0e3"/><rect x="684" y="150" width="24" height="1" fill="#38b0e3"/><rect x="708" y="151" width="6" height="1" fill="#38b0e3"/><rect x="714" y="152" width="4" height="1" fill="#38b0e3"/><rect x="718" y="153" width="6" height="1" fill="#38b0e3"/><rect x="724" y="154" width="16" height="1" fill="#38b0e3"/><rect x="740" y="155" width="8" height="1" fill="#38b0e3"/><rect x="748" y="156" width="6" height="1" fill="#38b0e3"/><rect x="754" y="157" width="4" height="1" fill="#38b0e3"/><rect x="758" y="158" width="4" height="1" fill="#38b0e3"/><rect x="762" y="159" width="6" height="1" fill="#38b0e3"/><rect x="768" y="160" width="2" height="1" fill="#38b0e3"/><rect x="770" y="161" width="4" height="1" fill="#38b0e3"/><rect x="774" y="162" width="6" height="1" fill="#38b0e3"/><rect x="780" y="163" width="6" height="1" fill="#38b0e3"/><rect x="786" y="164" width="4" height="1" fill="#38b0e3"/><rect x="790" y="165" width="4" height="1" fill="#38b0e3"/><rect x="794" y="166" width="6" height="1" fill="#38b0e3"/><rect x="800" y="167" width="2" height="1" fill="#38b0e3"/><rect x="802" y="168" width="4" height="1" fill="#38b0e3"/><rect x="806" y="169" width="4" height="1" fill="#38b0e3"/><rect x="810" y="170" width="4" height="1" fill="#38b0e3"/><rect x="814" y="171" width="4" height="1" fill="#38b0e3"/><rect x="818" y="172" width="4" height="1" fill="#38b0e3"/><rect x="822" y="173" width="4" height="1" fill="#38b0e3"/><rect x="826" y="174" width="4" height="1" fill="#38b0e3"/><rect x="830" y="175" width="6" height="1" fill="#38b0e3"/><rect x="836" y="176" width="6" height="1" fill="#38b0e3"/><rect x="842" y="177" width="4" height="1" fill="#38b0e3"/><rect x="846" y="178" width="4" height="1" fill="#38b0e3"/><rect x="850" y="179" width="4" height="1" fill="#38b0e3"/><rect x="854" y="180" width="4" height="1" fill="#38b0e3"/><rect x="858" y="181" width="4" height="1" fill="#38b0e3"/><rect x="862" y="182" width="5" height="1" fill="#38b0e3"/><rect x="867" y="183" width="3" height="1" fill="#38b0e3"/><rect x="870" y="184" width="5" height="1" fill="#38b0e3"/><rect x="875" y="185" width="3" height="1" fill="#38b0e3"/><rect x="878" y="186" width="6" height="1" fill="#38b0e3"/><rect x="884" y="187" width="6" height="1" fill="#38b0e3"/><rect x="890" y="188" width="4" height="1" fill="#38b0e3"/><rect x="894" y="189" width="4" height="1" fill="#38b0e3"/><rect x="898" y="190" width="4" height="1" fill="#38b0e3"/><rect x="902" y="191" width="4" height="1" fill="#38b0e3"/><rect x="906" y="192" width="4" height="1" fill="#38b0e3"/><rect x="910" y="193" width="4" height="1" fill="#38b0e3"/><rect x="914" y="194" width="3" height="1" fill="#38b0e3"/><rect x="917" y="195" width="1" height="1" fill="#38b0e3"/><rect x="918" y="196" width="4" height="1" fill="#38b0e3"/><rect x="922" y="197" width="4" height="1" fill="#38b0e3"/><rect x="926" y="198" width="6" height="1" fill="#38b0e3"/><rect x="932" y="199" width="6" height="1" fill="#38b0e3"/><rect x="938" y="200" width="4" height="1" fill="#38b0e3"/><rect x="942" y="201" width="4" height="1" fill="#38b0e3"/><rect x="946" y="202" width="4" height="1" fill="#38b0e3"/><rect x="950" y="203" width="4" height="1" fill="#38b0e3"/><rect x="954" y="204" width="4" height="1" fill="#38b0e3"/><rect x="958" y="205" width="2" height="1" fill="#38b0e3"/></g>
<polyline points="95.5,193.7 117.8,184.7 158.3,172.0 194.5,161.3 224.3,154.5 262.6,140.0 281.5,134.5 300.8,130.5 320.0,128.2 338.5,126.8 378.2,123.9 405.2,119.9 427.6,117.3 443.0,116.5 466.5,116.5 467.5,115.5 475.5,115.5 476.5,116.5 507.5,116.5 508.5,117.5 519.5,117.5 533.0,119.8 553.4,122.3 571.6,129.0 588.0,133.2 592.7,135.0 606.4,139.9 619.0,143.6 632.7,148.9 648.3,154.7 667.8,161.6 690.0,167.9 711.8,173.7 741.7,183.2 763.0,192.8 780.0,201.7 790.0,207.7 805.6,216.0 837.5,235.2 875.8,252.2 889.5,260.0 908.0,268.5 935.0,281.0 942.0,282.0 949.0,283.0 959.0,285.9" fill="none" stroke="#4cbb80" stroke-width="1" shape-rendering="crispEdges"/>
<polyline points="95.5,158.5 117.8,153.2 128.5,152.8 144.4,150.0 173.2,139.8 192.9,133.8 205.4,125.8 223.6,119.0 240.0,112.8 258.8,104.4 285.4,99.3 320.0,99.4 335.6,101.0 347.8,101.4 358.0,104.0 378.5,104.3 395.8,108.8 409.4,111.6 427.6,115.6 442.8,119.3 453.0,122.7 467.8,125.5 483.7,129.0 499.6,131.8 509.8,134.0 522.8,135.3 538.6,140.4 555.7,149.0 573.8,162.0 588.0,172.8 592.2,175.1 603.6,180.8 612.6,185.9 620.0,190.8 630.2,198.0 646.0,204.2 663.0,210.4 675.6,214.4 692.0,224.0 701.0,226.2 712.4,227.7 719.5,230.5 737.9,232.6 752.1,234.8 760.6,238.3 769.1,244.0 774.7,248.0 784.0,252.8 791.7,258.2 800.0,264.3 807.1,269.2 821.3,281.3 835.5,294.1 852.6,306.9 863.9,317.5 872.4,322.5 879.5,323.9 888.0,329.6 899.4,336.7 910.8,342.1 927.8,342.1 935.0,339.5 944.9,337.8 959.0,333.2" fill="none" stroke="#3c8ff2" stroke-width="1" shape-rendering="crispEdges"/>
<g shape-rendering="crispEdges">
<rect x="315" y="46" width="742" height="1" fill="#ff0000"/>
<text x="1056.5" y="42" text-anchor="end" class="b12" fill="#ff0000">0.382 \ 110.7022</text>
<line x1="255" y1="60.5" x2="1057" y2="60.5" stroke="#ff0000" stroke-width="1" stroke-dasharray="3,3" shape-rendering="crispEdges"/>
<rect x="255" y="123" width="802" height="1" fill="#ff00ff"/>
<text x="960.5" y="119.7" class="b12" fill="#ff00ff">0.236 \ 107.8055</text>
<rect x="255" y="162" width="802" height="1" fill="#ff00ff"/>
<text x="960.5" y="158.7" class="b12" fill="#ff00ff">0.382 \ 106.3428</text>
<rect x="255" y="193" width="802" height="1" fill="#ff00ff"/>
<text x="960.5" y="189.7" class="b12" fill="#ff00ff">0.500 \ 105.1607</text>
<rect x="255" y="225" width="802" height="1" fill="#ff00ff"/>
<text x="960.5" y="221.7" class="b12" fill="#ff00ff">0.618 \ 103.9785</text>
<rect x="255" y="269" width="802" height="1" fill="#ff00ff"/>
<text x="960.5" y="265.7" class="b12" fill="#ff00ff">0.786 \ 102.2954</text>
<rect x="255" y="296" width="802" height="1" fill="#ff00ff"/>
<text x="960.5" y="292.7" class="b12" fill="#ff00ff">0.886 \ 101.2935</text>
<rect x="255" y="326" width="802" height="1" fill="#ff00ff"/>
<text x="960.5" y="322.7" class="b12" fill="#ff00ff">1.000 \ 100.1514</text>
<rect x="91" y="186" width="966" height="1" fill="#ff0000"/>
<text x="1056.5" y="182.5" text-anchor="end" class="t12" fill="#ff0000">105.4200</text>
<rect x="91" y="282" width="966" height="1" fill="#ff0000"/>
<text x="1056.5" y="278.5" text-anchor="end" class="t12" fill="#ff0000">101.8000</text>
<rect x="91" y="346" width="966" height="1" fill="#ff0000"/>
<text x="1056.5" y="342.5" text-anchor="end" class="t12" fill="#ff0000">99.4000</text>
<line x1="91" y1="307.5" x2="1057" y2="307.5" stroke="#1a80f0" stroke-width="1" stroke-dasharray="3,3" shape-rendering="crispEdges"/>
</g>
<line x1="100" y1="21.5" x2="335.5" y2="148.3" stroke="#ff0000" stroke-width="1" stroke-dasharray="3.4,3.4" shape-rendering="crispEdges"/>
<line x1="90.5" y1="133.2" x2="255.5" y2="60.5" stroke="#ff0000" stroke-width="1" stroke-dasharray="3.27,3.27" shape-rendering="crispEdges"/>
<line x1="335.5" y1="20" x2="335.5" y2="148" stroke="#ff0000" stroke-width="1" stroke-dasharray="3,3" shape-rendering="crispEdges"/>
<rect x="254" y="61" width="6" height="1" fill="#111"/><rect x="255" y="59" width="1" height="4" fill="#111"/><rect x="254" y="60" width="3" height="1" fill="#111"/>
<rect x="813" y="386" width="7" height="1" fill="#111"/><rect x="815" y="384" width="1" height="4" fill="#111"/>
<text x="260" y="57.8" class="b12" fill="#ef5b6c">110.1699</text>
<text x="820.5" y="397.8" class="b12" fill="#4fb585">97.9229</text>
<rect x="1057.5" y="307.5" width="68" height="17" fill="#fff" stroke="#ff8000" stroke-width="1" shape-rendering="crispEdges"/>
<text x="1060.5" y="320" class="t12" fill="#ff8000">100.8944</text>
<path d="M1117.5 303 L1121.3 299 L1125.2 303 Z M1117.5 307.2 L1121.3 303.2 L1125.2 307.2 Z" fill="#ff8000"/>
<polyline points="95.5,463.5 103.5,459.6 111.5,439.5 119.5,437.7 127.5,455.0 135.5,451.5 143.5,450.4 151.5,451.0 159.5,451.5 167.5,454.3 175.5,453.1 183.5,444.6 191.5,446.2 199.5,433.1 207.5,444.6 215.5,467.2 223.5,458.4 231.5,453.4 239.5,449.2 247.5,442.3 255.5,444.6 263.5,457.3 271.5,460.3 279.5,465.4 287.5,455.7 295.5,489.9 303.5,492.2 311.5,485.7 319.5,487.4 327.5,500.7 335.5,504.2 343.5,489.2 351.5,488.0 359.5,484.1 367.5,475.4 375.5,477.2 383.5,487.6 391.5,496.1 399.5,494.3 407.5,484.6 415.5,478.8 423.5,488.0 431.5,486.9 439.5,506.5 447.5,510.7 455.5,512.3 463.5,502.6 471.5,499.6 479.5,515.0 487.5,507.0 495.5,505.8 503.5,512.3 511.5,506.5 519.5,485.3 527.5,480.0 535.5,498.4 543.5,514.0 551.5,528.0 559.5,529.6 567.5,532.3 575.5,532.6 583.5,537.2 591.5,533.0 599.5,525.4 607.5,527.3 615.5,531.2 623.5,533.5 631.5,526.1 639.5,515.7 647.5,505.4 655.5,501.2 663.5,503.5 671.5,493.4 679.5,498.9 687.5,505.4 695.5,500.7 703.5,499.6 711.5,510.0 719.5,535.3 727.5,512.3 735.5,499.6 743.5,506.5 751.5,507.0 759.5,529.6 767.5,538.1 775.5,539.5 783.5,529.6 791.5,536.3 799.5,532.3 807.5,534.2 815.5,539.5 823.5,527.3 831.5,509.5 839.5,516.4 847.5,510.4 855.5,517.3 863.5,512.7 871.5,504.2 879.5,495.4 887.5,497.3 895.5,500.3 903.5,507.2 911.5,495.0 919.5,483.4 927.5,486.4 935.5,467.8 943.5,480.4 951.5,478.4 959.5,481.6" fill="none" stroke="#3aa9de" stroke-width="1" shape-rendering="crispEdges"/>
<polyline points="95.5,593.5 103.5,589.6 111.5,569.5 119.5,567.7 127.5,585.0 135.5,581.5 143.5,580.4 151.5,581.0 159.5,581.5 167.5,584.3 175.5,583.1 183.5,574.6 191.5,576.2 199.5,563.1 207.5,574.6 215.5,597.2 223.5,588.4 231.5,583.4 239.5,579.2 247.5,572.3 255.5,574.6 263.5,587.3 271.5,590.3 279.5,595.4 287.5,585.7 295.5,619.9 303.5,622.2 311.5,615.7 319.5,617.4 327.5,630.7 335.5,634.2 343.5,619.2 351.5,618.0 359.5,614.1 367.5,605.4 375.5,607.2 383.5,617.6 391.5,626.1 399.5,624.3 407.5,614.6 415.5,608.8 423.5,618.0 431.5,616.9 439.5,636.5 447.5,640.7 455.5,642.3 463.5,632.6 471.5,629.6 479.5,645.0 487.5,637.0 495.5,635.8 503.5,642.3 511.5,636.5 519.5,615.3 527.5,610.0 535.5,628.4 543.5,644.0 551.5,658.0 559.5,659.6 567.5,662.3 575.5,662.6 583.5,667.2 591.5,663.0 599.5,655.4 607.5,657.3 615.5,661.2 623.5,663.5 631.5,656.1 639.5,645.7 647.5,635.4 655.5,631.2 663.5,633.5 671.5,623.4 679.5,628.9 687.5,635.4 695.5,630.7 703.5,629.6 711.5,640.0 719.5,665.3 727.5,642.3 735.5,629.6 743.5,636.5 751.5,637.0 759.5,659.6 767.5,668.1 775.5,669.5 783.5,659.6 791.5,666.3 799.5,662.3 807.5,664.2 815.5,669.5 823.5,657.3 831.5,639.5 839.5,646.4 847.5,640.4 855.5,647.3 863.5,642.7 871.5,634.2 879.5,625.4 887.5,627.3 895.5,630.3 903.5,637.2 911.5,625.0 919.5,613.4 927.5,616.4 935.5,597.8 943.5,610.4 951.5,608.4 959.5,611.6" fill="none" stroke="#3aa9de" stroke-width="1" shape-rendering="crispEdges"/>
<text x="92" y="13.8" class="tt" fill="#111">美元指数</text>
<text x="139" y="13.8" class="tt" fill="#f5831f">【日线】</text>
<circle cx="192.5" cy="11" r="4" fill="none" stroke="#f5831f" stroke-width="1"/><path d="M188.5 11 H196.5 M192.5 7 V15" stroke="#f5831f" stroke-width="1"/>
<rect x="205.5" y="1.5" width="11" height="12" fill="#fff" stroke="#2233aa" stroke-width="1"/>
<path d="M206.5 10 L209 6 L211.5 9 L215.5 4" fill="none" stroke="#e02020" stroke-width="1"/><path d="M206.5 12 L209.5 8 L212 11 L215.5 7" fill="none" stroke="#2255dd" stroke-width="1"/>
<text x="220.5" y="13.8" class="t12" fill="#111" style="letter-spacing:0.15px">MA(20,50,100,200,0,0)</text>
<text x="352.5" y="13.8" class="tt" fill="#4d9ef7">MA20:99.9035</text>
<text x="441.5" y="13.8" class="tt" fill="#54c48a">MA50:101.7073</text>
<text x="538.5" y="13.8" class="tt" fill="#3fb0e0">MA100:104.7388</text>
<text x="642.5" y="13.8" class="tt" fill="#f7904a">MA200:104.2916</text>
<text x="747" y="13.8" class="tt" fill="#e57ee0">MA0:100.8944</text>
<text x="837" y="13.8" class="tt" fill="#8d8ff2">MA0:100.8944</text>
<rect x="994.5" y="1.5" width="13" height="13" fill="#fff" stroke="#1a7fd6" stroke-width="1.15"/>
<rect x="1010.5" y="1.5" width="13" height="13" fill="#fff" stroke="#1a7fd6" stroke-width="1.15"/>
<rect x="1026.5" y="1.5" width="13" height="13" fill="#fff" stroke="#1a7fd6" stroke-width="1.15"/>
<rect x="1042.5" y="1.5" width="13" height="13" fill="#fff" stroke="#1a7fd6" stroke-width="1.15"/>
<rect x="1000.5" y="3" width="1.6" height="2.6" fill="#1a7fd6"/>
<rect x="1000.5" y="7" width="1.6" height="1.7" fill="#1a7fd6"/>
<rect x="1000.5" y="10.2" width="1.6" height="2.6" fill="#1a7fd6"/>
<rect x="996" y="7" width="2.7" height="1.7" fill="#1a7fd6"/>
<rect x="1003.4" y="7" width="2.7" height="1.7" fill="#1a7fd6"/>
<path d="M1013.5 4 V11.5 H1021.5" fill="none" stroke="#1a7fd6" stroke-width="1.3"/>
<path d="M1011.8 5.2 L1013.5 2.8 L1015.2 5.2 Z M1020.2 9.8 L1022.6 11.5 L1020.2 13.2 Z" fill="#1a7fd6"/>
<path d="M1029.5 4 V11.5 H1037.5" fill="none" stroke="#1a7fd6" stroke-width="1.3"/>
<path d="M1027.8 5.2 L1029.5 2.8 L1031.2 5.2 Z M1036.2 9.8 L1038.6 11.5 L1036.2 13.2 Z" fill="#1a7fd6"/>
<rect x="1016" y="4.3" width="1.3" height="5" fill="#1a7fd6"/>
<path d="M1020 4.6 L1017.4 6.8 L1020 9 Z" fill="#1a7fd6"/>
<path d="M1032 4.6 L1037 7.4 L1032 10.2 Z" fill="#1a7fd6"/>
<rect x="1044.6" y="3.3" width="3" height="9.2" fill="none" stroke="#1a7fd6" stroke-width="1.2"/>
<rect x="1046" y="7" width="6" height="1.6" fill="#1a7fd6"/><path d="M1050.2 5.2 L1053.8 7.8 L1050.2 10.4 Z" fill="#1a7fd6"/>
<rect x="191" y="669" width="1" height="5" fill="#c8d0d8"/>
<text x="193" y="682" class="b12" fill="#1e1e30">2025/01</text>
<rect x="375" y="669" width="1" height="5" fill="#c8d0d8"/>
<text x="377" y="682" class="b12" fill="#1e1e30">2025/02</text>
<rect x="535" y="669" width="1" height="5" fill="#c8d0d8"/>
<text x="537" y="682" class="b12" fill="#1e1e30">2025/03</text>
<rect x="703" y="669" width="1" height="5" fill="#c8d0d8"/>
<text x="705" y="682" class="b12" fill="#1e1e30">2025/04</text>
<rect x="879" y="669" width="1" height="5" fill="#c8d0d8"/>
<text x="881" y="682" class="b12" fill="#1e1e30">2025/05</text>
<circle cx="29" cy="548" r="3.5" fill="#fff" stroke="#111" stroke-width="1"/>
<circle cx="29" cy="548" r="1.8" fill="#ff0000"/>
<path d="M29 541 V543 M29 553 V555 M22 547.8 H24 M34 547.8 H36 M23.3 542.2 L24.9 543.8 M34.7 542.2 L33.1 543.8 M23.3 553.4 L24.9 551.8 M34.7 553.4 L33.1 551.8" stroke="#ff0000" stroke-width="1"/>
</svg>
<div style="position:absolute;left:20px;top:669px;width:70px;height:20px;border-right:1px solid #d5dce4;box-sizing:border-box;color:#f5831f;font-size:14px;font-weight:bold;text-align:center;line-height:20px">日线<span style="font-size:13px;position:relative;top:-1px;margin-left:3px">▲</span></div>
<div class="tabs">
<div class="tab" style="left:0;top:-1px;height:17px;line-height:17px;width:39px;background:#ff6a0a;color:#fff;font-family:'Liberation Sans',sans-serif;font-size:13px">指标</div>
<div class="tab" style="left:39px;width:41px;font-family:'Liberation Sans',sans-serif;font-size:13px;color:#222">模板</div>
<div class="tab" style="left:80px;width:58px;color:#f5831f;font-size:12px">VIP指标</div>
<div class="tab" style="left:138px;top:-1px;height:17px;line-height:17px;width:28px;background:#ff6a0a;color:#fff">MA</div>
<div class="tab" style="left:166px;width:40px">MACD</div>
<div class="tab" style="left:206px;width:40px">BIAS</div>
<div class="tab" style="left:246px;width:34px">CCI</div>
<div class="tab" style="left:280px;width:34px">KDJ</div>
<div class="tab" style="left:314px;width:40px">LW&amp;</div>
<div class="tab" style="left:354px;width:34px">RSI</div>
<div class="tab" style="left:388px;width:28px">CR</div>
<div class="tab" style="left:416px;width:34px">PSY</div>
<div class="tab" style="left:450px;width:40px">BOLL</div>
<div class="tab" style="left:490px;width:34px">VOL</div>
<div class="tab" style="left:524px;width:34px">PPS</div>
<div class="tab" style="left:558px;width:28px">PP</div>
<div class="tab" style="left:586px;width:40px;font-family:'Liberation Sans',sans-serif;font-size:13px">设置</div>
</div>
<div style="position:absolute;left:645px;top:704px;right:0;height:1px;background:#d3d9e0"></div>
<div class="wm">FX678</div>
</body></html>
